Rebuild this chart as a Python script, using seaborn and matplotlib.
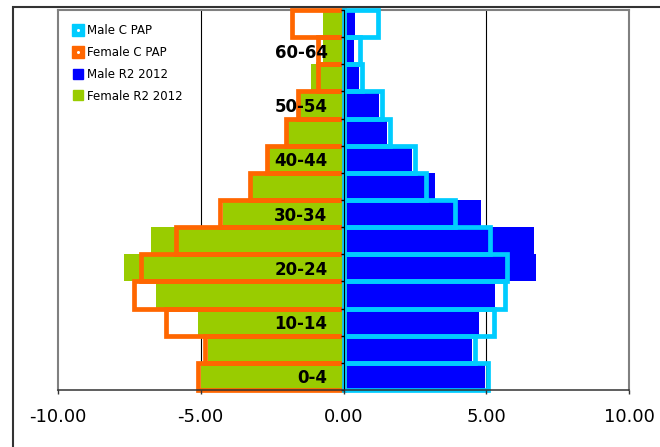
import seaborn as sns
import matplotlib.pyplot as plt
import matplotlib.patches as mpatches
from matplotlib.lines import Line2D
from matplotlib.ticker import FormatStrFormatter
import numpy as np
import pandas as pd

# Age groups, youngest first (drawn bottom to top)
ages = ["0-4", "5-9", "10-14", "15-19", "20-24", "25-29", "30-34",
        "35-39", "40-44", "45-49", "50-54", "55-59", "60-64", "65+"]

# Percent of population per age group
female_r2 = [5.0, 4.75, 5.1, 6.55, 7.7, 6.76, 4.22, 3.2, 2.6, 1.94, 1.52, 1.13, 0.72, 0.72]
female_cpap = [5.1, 4.85, 6.2, 7.33, 7.09, 5.86, 4.34, 3.29, 2.67, 2.03, 1.61, 0.9, 0.88, 1.81]
male_r2 = [4.96, 4.5, 4.73, 5.32, 6.75, 6.68, 4.8, 3.19, 2.4, 1.52, 1.24, 0.56, 0.38, 0.42]
male_cpap = [5.06, 4.6, 5.27, 5.66, 5.74, 5.12, 3.91, 2.9, 2.5, 1.62, 1.34, 0.65, 0.58, 1.21]

x_ticks = [-10, -5, 0, 5, 10]

colors = {
    'Male C PAP': '#00CCFF',
    'Female C PAP': '#FF6600',
    'Male R2 2012': '#0000FF',
    'Female R2 2012': '#99CC00',
}

df = pd.DataFrame({
    'Age': ages,
    'Female R2 2012': [-v for v in female_r2],
    'Male R2 2012': male_r2,
    'Female C PAP': [-v for v in female_cpap],
    'Male C PAP': male_cpap,
})

order = ages[::-1]  # seaborn puts first category on top

fig = plt.figure(figsize=(6.6, 4.47), dpi=100)
ax = fig.add_axes([58 / 660, 57 / 447, 571 / 660, 380 / 447])

# vertical gridlines behind the bars
for xv in [-5, 5]:
    ax.axvline(xv, color='black', lw=0.8, zorder=0)

# filled bars (R2 2012)
for col in ['Female R2 2012', 'Male R2 2012']:
    sns.barplot(data=df, x=col, y='Age', order=order, color=colors[col],
                saturation=1, width=1, errorbar=None, linewidth=0, ax=ax)

# outlined bars (C PAP)
for col in ['Female C PAP', 'Male C PAP']:
    sns.barplot(data=df, x=col, y='Age', order=order, color=colors[col],
                saturation=1, width=1, errorbar=None, fill=False,
                edgecolor=colors[col], linewidth=3.4, clip_on=False, ax=ax)

ax.set_xlim(-10, 10)
ax.set_ylim(len(ages) - 0.5, -0.5)
ax.set_xlabel('')
ax.set_ylabel('')

ax.set_xticks(x_ticks)
ax.xaxis.set_major_formatter(FormatStrFormatter('%.2f'))
ax.tick_params(axis='x', direction='out', length=3, width=1, color='#333333',
               pad=10, labelsize=13, labelcolor='black')

# category axis sits at zero
ax.spines['left'].set_position(('data', 0))
ax.spines['left'].set_color('black')
ax.spines['left'].set_linewidth(0.8)
ax.spines['bottom'].set_color('#333333')
ax.spines['bottom'].set_linewidth(1.1)
for side in ['top', 'right']:
    ax.spines[side].set_color('#808080')
    ax.spines[side].set_linewidth(1.5)
ax.spines['top'].set_zorder(0.5)
ax.axvline(-10, color='#808080', lw=1.5, zorder=0.5, clip_on=False)

ax.set_yticks(range(len(order)))
ax.set_yticklabels([a if ages.index(a) % 2 == 0 else '' for a in order],
                   fontsize=12, fontweight='bold')
ax.tick_params(axis='y', which='major', length=0, pad=11.5)
ax.set_yticks(np.arange(-0.5, len(order), 1), minor=True)
ax.tick_params(axis='y', which='minor', direction='out', length=2.5,
               width=1, color='black')

# legend
handles = [
    (Line2D([], [], ls='', marker='s', ms=8.5, color=colors['Male C PAP']),
     Line2D([], [], ls='', marker='o', ms=1.2, color='white')),
    (Line2D([], [], ls='', marker='s', ms=8.5, color=colors['Female C PAP']),
     Line2D([], [], ls='', marker='o', ms=1.2, color='white')),
    Line2D([], [], ls='', marker='s', ms=6.5, color=colors['Male R2 2012']),
    Line2D([], [], ls='', marker='s', ms=6.5, color=colors['Female R2 2012']),
]
labels = ['Male C PAP', 'Female C PAP', 'Male R2 2012', 'Female R2 2012']
fig.legend(handles, labels, loc='upper left',
           bbox_to_anchor=(72 / 660, 1 - 24 / 447), frameon=False,
           fontsize=8.5, handlelength=1.0, handletextpad=0.3,
           labelspacing=0.75, borderpad=0, borderaxespad=0)

# outer chart frame
fig.patches.append(mpatches.Rectangle((13 / 660, -0.05), 1.0, 1.05 - 6.5 / 447,
                                      transform=fig.transFigure, fill=False,
                                      edgecolor='#333333', lw=1.5))

fig.savefig('out.png', dpi=100)
